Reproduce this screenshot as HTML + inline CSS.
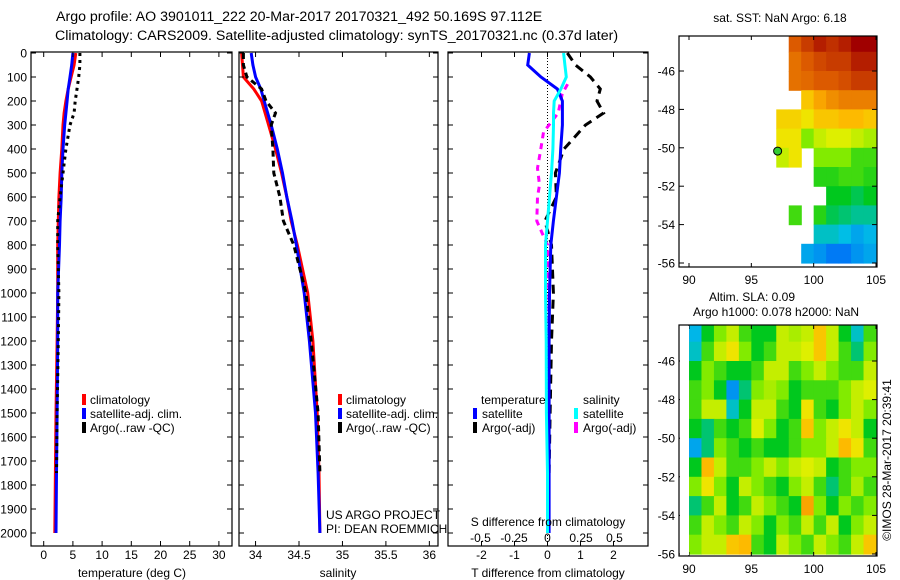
<!DOCTYPE html>
<html><head><meta charset="utf-8">
<style>
html,body{margin:0;padding:0;background:#fff;}
svg{display:block;font-family:"Liberation Sans",sans-serif;}
text{fill:#000;}
</style></head>
<body>
<svg id="chart" width="900" height="580" viewBox="0 0 900 580">
<text x="56" y="21" font-size="14.2">Argo profile: AO 3901011_222 20-Mar-2017 20170321_492 50.169S 97.112E</text>
<text x="55" y="40" font-size="14.2">Climatology: CARS2009. Satellite-adjusted climatology: synTS_20170321.nc (0.37d later)</text>
<g id="g"></g>
</svg>
<script>
// ---------- data ----------
const tDepth = [0,50,100,150,200,250,300,400,500,600,700,800,1000,1200,1500,1750,2000];
const tClim  = [5.5,5.2,4.7,4.2,3.8,3.5,3.3,3.1,2.8,2.6,2.5,2.4,2.4,2.3,2.1,2.0,1.9];
const tSat   = [5.0,4.8,4.5,4.2,4.0,3.8,3.6,3.3,3.1,3.0,2.8,2.7,2.4,2.4,2.3,2.2,2.1];
const aDepth = [0,50,100,150,200,250,300,400,500,600,700,800,1000,1200,1500,1750];
const tArgo  = [6.2,6.2,6.0,5.7,5.4,5.2,4.5,3.8,3.3,2.8,2.4,2.4,2.6,2.5,2.3,2.2];
const sClim  = [33.84,33.85,33.86,33.98,34.07,34.11,34.15,34.23,34.30,34.36,34.41,34.48,34.60,34.66,34.71,34.73,34.74];
const sSat   = [33.95,33.97,34.00,34.06,34.10,34.14,34.18,34.25,34.31,34.36,34.42,34.47,34.56,34.62,34.69,34.72,34.74];
const sArgo  = [33.86,33.86,33.90,34.07,34.12,34.23,34.18,34.20,34.21,34.28,34.32,34.44,34.58,34.64,34.72,34.74];
const dTSat  = [-0.55,-0.6,-0.2,0.3,0.45,0.45,0.45,0.4,0.36,0.27,0.18,0.1,0.06,0.05,0.05,0.05,0.05];
const dTArgo = [0.6,0.85,1.3,1.6,1.5,1.7,1.15,0.5,0.24,0.27,-0.08,0.12,0.18,0.12,0.08,0.05];
const dSSat  = [0.12,0.13,0.14,0.1,0.05,0.045,0.045,0.04,0.03,0.015,0,-0.015,-0.015,-0.01,-0.008,0,0];
const sArgoDepth = [130,170,250,330,400,480,550,600,700,750,800,1000,1200,1500,1750];
const dSArgo = [0.15,0.11,0.08,-0.03,-0.05,-0.075,-0.06,-0.075,-0.08,-0.04,0,0.01,0.01,0.01,0.01];
const depthTicks = [0,100,200,300,400,500,600,700,800,900,1000,1100,1200,1300,1400,1500,1600,1700,1800,1900,2000];
const tempTicks = [0,5,10,15,20,25,30];
const salTicks = [34,34.5,35,35.5,36];
const dTTicks = [-2,-1,0,1,2];
const dSTicks = [-0.5,-0.25,0,0.25,0.5];
const latTicks = [-46,-48,-50,-52,-54,-56];
const lonTicks = [90,95,100,105];
const N = null;
const sstGrid = [
 [N,N,N,N,N,N,N,N,0.85,0.9,0.95,0.92,0.95,1.0,1.0],
 [N,N,N,N,N,N,N,N,0.82,0.85,0.88,0.9,0.9,0.95,0.95],
 [N,N,N,N,N,N,N,N,0.82,0.83,0.85,0.85,0.87,0.9,0.9],
 [N,N,N,N,N,N,N,N,N,0.7,0.75,0.78,0.8,0.8,0.8],
 [N,N,N,N,N,N,N,0.68,0.68,0.65,0.7,0.7,0.72,0.72,0.7],
 [N,N,N,N,N,N,N,0.65,0.65,0.55,0.6,0.62,0.62,0.6,0.58],
 [N,N,N,N,N,N,N,0.6,0.65,N,0.55,0.55,0.55,0.5,0.5],
 [N,N,N,N,N,N,N,N,N,N,0.48,0.48,0.5,0.5,0.48],
 [N,N,N,N,N,N,N,N,N,N,N,0.45,0.45,0.42,0.45],
 [N,N,N,N,N,N,N,N,0.5,N,0.48,0.42,0.4,0.38,0.38],
 [N,N,N,N,N,N,N,N,N,N,0.35,0.35,0.33,0.3,0.32],
 [N,N,N,N,N,N,N,N,N,0.3,0.28,0.25,0.25,0.28,0.3]
];
const slaGrid = [
 [0.32,0.45,0.55,0.6,0.5,0.45,0.45,0.6,0.58,0.6,0.7,0.6,0.45,0.35,0.5],
 [0.35,0.5,0.6,0.65,0.55,0.45,0.5,0.6,0.6,0.62,0.7,0.6,0.5,0.4,0.55],
 [0.45,0.55,0.5,0.45,0.45,0.5,0.6,0.6,0.5,0.55,0.6,0.55,0.5,0.5,0.6],
 [0.5,0.55,0.45,0.28,0.4,0.55,0.58,0.55,0.45,0.5,0.5,0.5,0.55,0.6,0.62],
 [0.5,0.6,0.6,0.35,0.45,0.6,0.6,0.5,0.45,0.65,0.5,0.45,0.55,0.6,0.55],
 [0.45,0.4,0.5,0.45,0.5,0.62,0.55,0.45,0.5,0.7,0.55,0.6,0.65,0.6,0.45],
 [0.3,0.4,0.55,0.5,0.45,0.5,0.45,0.45,0.5,0.55,0.55,0.6,0.72,0.65,0.5],
 [0.45,0.72,0.6,0.5,0.5,0.55,0.6,0.55,0.6,0.62,0.6,0.45,0.5,0.55,0.55],
 [0.55,0.65,0.55,0.45,0.6,0.55,0.5,0.45,0.55,0.6,0.5,0.4,0.5,0.58,0.5],
 [0.4,0.5,0.6,0.45,0.5,0.6,0.55,0.5,0.45,0.75,0.55,0.45,0.55,0.5,0.55],
 [0.5,0.6,0.55,0.5,0.6,0.55,0.45,0.55,0.5,0.6,0.5,0.6,0.45,0.55,0.6],
 [0.55,0.6,0.6,0.7,0.72,0.5,0.45,0.6,0.55,0.5,0.6,0.55,0.5,0.6,0.7]
];

// ---------- helpers ----------
const NS = "http://www.w3.org/2000/svg";
const G = document.getElementById('g');
function el(tag, attrs, parent, txt){
  const e = document.createElementNS(NS, tag);
  for (const k in attrs) e.setAttribute(k, attrs[k]);
  if (txt !== undefined) e.textContent = txt;
  (parent||G).appendChild(e);
  return e;
}
const TOP=52, BOT=546;
const yD = d => 53 + d*0.24;
const xT = t => 43.7 + t*5.84;
const xS = s => 299 + (s-34.5)*86.9;
const xDT = v => 547.5 + v*33;
const xDS = v => 547.5 + v*134;
function line(xs, ds, fx, color, w, dash, name){
  const pts = xs.map((v,i)=> (v===null?null:fx(v).toFixed(1)+','+yD(ds[i]).toFixed(1))).filter(p=>p);
  const a = {points:pts.join(' '), fill:'none', stroke:color, 'stroke-width':w};
  if (dash) a['stroke-dasharray']=dash;
  const p = el('polyline', a);
  
  
}
function frame(x0,x1,y0,y1,name){
  const r = el('rect',{x:x0,y:y0,width:x1-x0,height:y1-y0,fill:'none',stroke:'#000','stroke-width':1.2});
  
  
}
function xticks(vals, fx, y0, y1, labY, fmt, name){
  vals.forEach(v=>{
    const x=fx(v);
    el('line',{x1:x,x2:x,y1:y1,y2:y1-5,stroke:'#000'});
    el('line',{x1:x,x2:x,y1:y0,y2:y0+5,stroke:'#000'});
    if (labY){
      const t = el('text',{x:x,y:labY,'font-size':12,'text-anchor':'middle'}, G, fmt?fmt(v):String(v));
      
      
    }
  });
}
function yticks(vals, fy, x0, x1, labX, name){
  vals.forEach(v=>{
    const y=fy(v);
    el('line',{x1:x0,x2:x0+5,y1:y,y2:y,stroke:'#000'});
    el('line',{x1:x1,x2:x1-5,y1:y,y2:y,stroke:'#000'});
    if (labX){
      const t = el('text',{x:labX,y:y+4.5,'font-size':12,'text-anchor':'end'}, G, String(v));
      
      
    }
  });
}
function txt(x,y,s,name,anchor,size){
  const t = el('text',{x:x,y:y,'font-size':size||12,'text-anchor':anchor||'start'}, G, s);
  
  
  return t;
}
function legendMark(x,y,color,name){
  const r = el('rect',{x:x,y:y-10,width:4,height:11,fill:color});
  
  
}

// ---------- panel 1: temperature ----------
line(tClim, tDepth, xT, '#f00', 3, null, 'temp-climatology-line');
line(tSat, tDepth, xT, '#00f', 3, null, 'temp-satellite-line');
line(tArgo, aDepth, xT, '#000', 3, '3 4', 'temp-argo-line');
frame(31,232,TOP,BOT,'temperature-panel');
yticks(depthTicks, yD, 31, 232, 27, 'depth-tick-label');
xticks(tempTicks, xT, TOP, BOT, 559, null, 'temp-tick-label');
txt(132,577,'temperature (deg C)','temp-axis-title','middle');
legendMark(82,404,'#f00','legend-climatology-marker'); txt(90,404,'climatology','legend-climatology');
legendMark(82,418,'#00f','legend-satellite-marker'); txt(90,418,'satellite-adj. clim.','legend-satellite');
legendMark(82,432,'#000','legend-argo-marker'); txt(90,432,'Argo(..raw -QC)','legend-argo');

// ---------- panel 2: salinity ----------
line(sClim, tDepth, xS, '#f00', 3, null, 'sal-climatology-line');
line(sSat, tDepth, xS, '#00f', 3, null, 'sal-satellite-line');
line(sArgo, aDepth, xS, '#000', 3, '6 4', 'sal-argo-line');
frame(239,438,TOP,BOT,'salinity-panel');
yticks(depthTicks, yD, 239, 438, null, 'depth-tick');
xticks(salTicks, xS, TOP, BOT, 559, null, 'sal-tick-label');
txt(338,577,'salinity','sal-axis-title','middle');
legendMark(338,404,'#f00','legend2-climatology-marker'); txt(346,404,'climatology','legend2-climatology');
legendMark(338,418,'#00f','legend2-satellite-marker'); txt(346,418,'satellite-adj. clim.','legend2-satellite');
legendMark(338,432,'#000','legend2-argo-marker'); txt(346,432,'Argo(..raw -QC)','legend2-argo');
txt(326,519,'US ARGO PROJECT','us-argo-project-label');
txt(326,533,'PI: DEAN ROEMMICH','pi-label');

// ---------- panel 3: differences ----------
el('line',{x1:547.5,x2:547.5,y1:TOP,y2:BOT,stroke:'#000','stroke-width':1,'stroke-dasharray':'1 2'});
line(dTArgo, aDepth, xDT, '#000', 3, '9 6', 'tdiff-argo-line');
line(dSArgo, sArgoDepth, xDS, '#f0f', 3, '6 5', 'sdiff-argo-line');
line(dTSat, tDepth, xDT, '#00f', 3, null, 'tdiff-satellite-line');
line(dSSat, tDepth, xDS, '#0ff', 3, null, 'sdiff-satellite-line');
frame(448,648,TOP,BOT,'difference-panel');
yticks(depthTicks, yD, 448, 648, null, 'depth-tick');
xticks(dTTicks, xDT, TOP, BOT, 559, null, 'tdiff-tick-label');
dSTicks.forEach(v=>{ txt(xDS(v),542,String(v),'sdiff-tick-label','middle'); });
txt(548,526,'S difference from climatology','sdiff-axis-title','middle');
txt(548,577,'T difference from climatology','tdiff-axis-title','middle');
txt(481,404,'temperature','legend3-temperature-header');
txt(583,404,'salinity','legend3-salinity-header');
legendMark(473,418,'#00f','legend3-tsat-marker'); txt(482,418,'satellite','legend3-tsat');
legendMark(473,432,'#000','legend3-targo-marker'); txt(482,432,'Argo(-adj)','legend3-targo');
legendMark(574,418,'#0ff','legend3-ssat-marker'); txt(583,418,'satellite','legend3-ssat');
legendMark(574,432,'#f0f','legend3-sargo-marker'); txt(583,432,'Argo(-adj)','legend3-sargo');

// ---------- maps ----------
const stops = [[0,[0,0,144]],[0.2,[0,80,255]],[0.33,[0,190,230]],[0.45,[0,200,30]],[0.55,[130,235,0]],[0.63,[235,240,0]],[0.73,[255,180,0]],[0.85,[220,90,0]],[1,[160,0,0]]];
function cmap(v){
  for (let i=1;i<stops.length;i++){
    if (v<=stops[i][0]){
      const a=stops[i-1], b=stops[i], f=(v-a[0])/(b[0]-a[0]);
      const c=a[1].map((x,k)=>Math.round(x+(b[1][k]-x)*f));
      return 'rgb('+c.join(',')+')';
    }
  }
  return 'rgb(160,0,0)';
}
function map(grid, x0, x1, y0, y1, lon90, lon105, lat46, lat56, name){
  const xL = lon => lon90 + (lon-90)*(lon105-lon90)/15;
  const yL = lat => lat46 + (-46-lat)*(lat56-lat46)/10;
  grid.forEach((row,r)=>{
    row.forEach((v,c)=>{
      if (v===null) return;
      const xa=Math.max(x0,xL(90+c)), xb=Math.min(x1,xL(91+c));
      const ya=Math.max(y0,yL(-44-r)), yb=Math.min(y1,yL(-45-r));
      const cell = el('rect',{x:xa,y:ya,width:xb-xa+0.6,height:yb-ya+0.6,fill:cmap(v)});
      
      
    });
  });
  frame(x0,x1,y0,y1,name);
  yticks(latTicks, yL, x0, x1, x0-4, name+'-lat-label');
  lonTicks.forEach(v=>{
    const x=xL(v);
    el('line',{x1:x,x2:x,y1:y1,y2:y1-4,stroke:'#000'});
    el('line',{x1:x,x2:x,y1:y0,y2:y0+4,stroke:'#000'});
    txt(x,y1+17,String(v),name+'-lon-label','middle');
  });
  return {xL,yL};
}
txt(780,22,'sat. SST: NaN Argo: 6.18','sst-map-title','middle');
const m1 = map(sstGrid, 679, 877, 36, 267, 689, 876, 71, 263, 'sst-map');
const pt = el('circle',{cx:m1.xL(97.11),cy:m1.yL(-50.17),r:4,fill:'#3c3',stroke:'#000'});



txt(752,301,'Altim. SLA: 0.09','sla-map-title','middle');
txt(776,316,'Argo h1000: 0.078 h2000: NaN','sla-map-subtitle','middle');
map(slaGrid, 679, 877, 325, 556, 689, 876, 361, 554, 'sla-map');
const wm = el('rect',{x:680,y:326,width:9,height:229,fill:'#fff'});


const cr = txt(0,0,'\u00A9IMOS 28-Mar-2017 20:39:41','imos-credit','middle');
cr.setAttribute('transform','translate(891,460) rotate(-90)');
</script>
</body></html>
